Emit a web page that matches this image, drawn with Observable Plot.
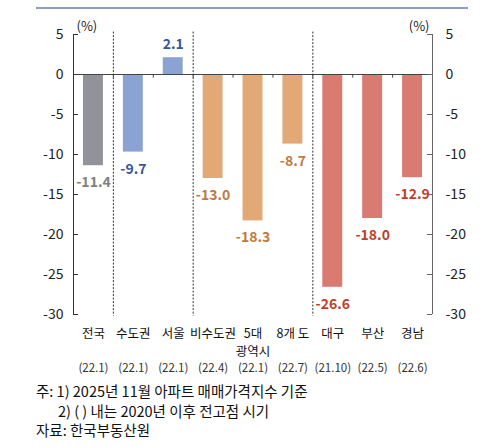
<!DOCTYPE html>
<html><head><meta charset="utf-8">
<script src="https://cdn.jsdelivr.net/npm/d3@7"></script>
<script src="https://cdn.jsdelivr.net/npm/@observablehq/plot@0.6"></script>
<style>
body{margin:0;background:#fff;width:500px;height:447px;position:relative;overflow:hidden;font-family:"Noto Sans CJK KR",sans-serif;}
#topline{position:absolute;left:36px;top:7px;width:432px;height:2px;background:#8c9ec4;}
#chart{position:absolute;left:0;top:0;}
#notes{position:absolute;left:36px;top:381px;font-size:14.5px;line-height:19.5px;color:#111;font-family:"Liberation Sans Narrow","Noto Sans CJK KR",sans-serif;}
</style></head><body>
<div id="chart"></div><div id="topline"></div>
<div id="notes"><div>주: 1) 2025년 11월 아파트 매매가격지수 기준</div><div style="padding-left:22px">2) ( ) 내는 2020년 이후 전고점 시기</div><div>자료: 한국부동산원</div></div>
<script>
const categories = ["전국","수도권","서울","비수도권","5대\n광역시","8개 도","대구","부산","경남"];
const values = [-11.4,-9.7,2.1,-13.0,-18.3,-8.7,-26.6,-18.0,-12.9];
const peaks = ["(22.1)","(22.1)","(22.1)","(22.4)","(22.1)","(22.7)","(21.10)","(22.5)","(22.6)"];
const groups = ["전국","수도권","수도권","비수도권","비수도권","비수도권","지방","지방","지방"];
const groupOrder = ["전국","수도권","비수도권","지방"];
const barColors = ["#929399","#8aa3d2","#e2a876","#d97b70"];
const labelColors = ["#808080","#3a5697","#c07a3f","#bf3f2c"];
const yTicks = [5,0,-5,-10,-15,-20,-25,-30];

const rows = categories.map((c,i)=>({i, c, v: values[i], p: peaks[i], g: groups[i]}));
const separators = [];
for (let i=0;i<groups.length-1;i++) if (groups[i]!==groups[i+1]) separators.push(i+0.5);
const boundaries = categories.slice(1).map((_,i)=>i+0.5);
const n = categories.length;
const barCol = d => barColors[groupOrder.indexOf(d.g)];
const labCol = d => labelColors[groupOrder.indexOf(d.g)];
const W = 500, ML = 73, MR = 68;
const frameW = W - ML - MR;
const yMin = d3.min(yTicks), yMax = d3.max(yTicks);

const chart = Plot.plot({
  width: W, height: 380,
  marginLeft: ML, marginRight: MR, marginTop: 34, marginBottom: 66,
  style: {fontFamily: '"Noto Sans CJK KR", sans-serif', fontSize: "14px", background: "white", overflow: "visible"},
  x: {domain: [-0.5, n-0.5], axis: null},
  y: {domain: [yMin, yMax]},
  color: {type: "identity"},
  marks: [
    Plot.rectY(rows, {x1: d=>d.i-0.25, x2: d=>d.i+0.25, y1: 0, y2: "v", fill: barCol}),
    Plot.ruleY([0], {stroke: "#444", strokeWidth: 1}),
    Plot.ruleX(boundaries, {x: d=>d, y1: 0, y2: -0.45, stroke: "#444"}),
    Plot.ruleX(separators, {x: d=>d, y1: yMax+0.3, y2: yMin-0.2, stroke: "#333", strokeDasharray: "2,1.5"}),
    Plot.ruleX([-0.5], {y1: yMin, y2: yMax, stroke: "#333"}),
    Plot.ruleX([n-0.5], {y1: yMin, y2: yMax, stroke: "#666"}),
    Plot.tickY(yTicks, {y: d=>d, insetRight: frameW-5, stroke: "#333"}),
    Plot.tickY(yTicks, {y: d=>d, insetLeft: frameW-5, stroke: "#666"}),
    Plot.axisY(yTicks, {anchor: "left", label: null, tickSize: 0, tickPadding: 10, fontSize: 14, fill: "#222", tickFormat: d=>String(d)}),
    Plot.axisY(yTicks, {anchor: "right", label: null, tickSize: 0, tickPadding: 13, fontSize: 14, fill: "#222", tickFormat: d=>String(d)}),
    Plot.text(["(%)"], {x: -0.5, y: yMax, text: d=>d, dx: 3, dy: -8, textAnchor: "start", fontSize: 13, fill: "#222"}),
    Plot.text(["(%)"], {x: n-0.5, y: yMax, text: d=>d, dx: -3, dy: -8, textAnchor: "end", fontSize: 13, fill: "#222"}),
    Plot.text(rows, {filter: d=>d.v<0, x: "i", y: "v", text: d=>d.v.toFixed(1), dy: 17, fill: labCol, fontSize: 14, fontWeight: 600}),
    Plot.text(rows, {filter: d=>d.v>=0, x: "i", y: "v", text: d=>d.v.toFixed(1), dy: -13, fill: labCol, fontSize: 14, fontWeight: 600}),
    Plot.text(rows, {x: "i", y: yMin, text: "c", dy: 11, lineAnchor: "top", lineHeight: 1.45, fontSize: 12.5, fill: "#111"}),
    Plot.text(rows, {x: "i", y: yMin, text: "p", dy: 54, fontSize: 11.5, fill: "#333"})
  ]
});
document.getElementById("chart").appendChild(chart);
</script>
</body></html>
